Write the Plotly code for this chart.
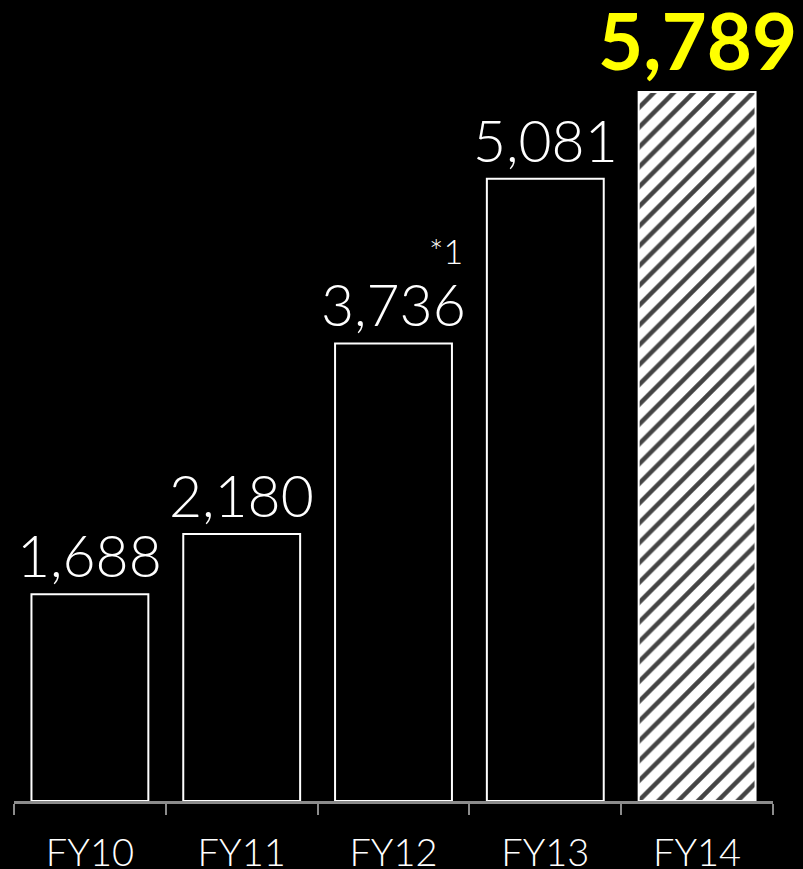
import plotly.graph_objects as go

categories = ["FY10", "FY11", "FY12", "FY13", "FY14"]
values = [1688, 2180, 3736, 5081, 5789]
labels = ["1,688", "2,180", "3,736", "5,081", "5,789"]

fill_colors = ["black", "black", "black", "black", "white"]
shapes = ["", "", "", "", "/"]

fig = go.Figure()
fig.add_trace(go.Bar(
    x=categories, y=values,
    marker=dict(
        color=fill_colors,
        line=dict(color="white", width=2),
        pattern=dict(shape=shapes, fgcolor="black", bgcolor="white", size=14,
                     solidity=0.32, fgopacity=1),
    ),
    hoverinfo="skip",
))

for i, (c, v, t) in enumerate(zip(categories, values, labels)):
    last = i == len(categories) - 1
    fig.add_annotation(
        x=c, y=v, text=f"<b>{t}</b>" if last else t, showarrow=False,
        yanchor="bottom", xanchor="center", yshift=4, borderpad=0,
        font=dict(family="Lato", size=78 if last else 57, color="#FFFF00" if last else "white",
                  weight=700 if last else 300),
    )

fig.add_annotation(x="FY12", y=3736, text="*1", showarrow=False, xanchor="center", yanchor="middle",
                   xshift=52, yshift=93, font=dict(family="Lato", size=34, color="white", weight=300))

fig.update_layout(
    width=803, height=869,
    margin=dict(l=14, r=30, t=0, b=68, autoexpand=False),
    paper_bgcolor="black", plot_bgcolor="black",
    bargap=0.23, showlegend=False,
    xaxis=dict(
        type="category", range=[-0.5, 4.5], tickson="boundaries", automargin=False,
        showline=True, linecolor="#8c8c8c", linewidth=3,
        ticks="outside", ticklen=11, tickcolor="#8c8c8c", tickwidth=2,
        ticklabelstandoff=16,
        tickfont=dict(family="Lato", size=38, color="white", weight=300),
        showgrid=False, zeroline=False,
    ),
    yaxis=dict(range=[0, 6540], visible=False, showgrid=False, zeroline=False, automargin=False),
)

fig.write_html("out.html")
